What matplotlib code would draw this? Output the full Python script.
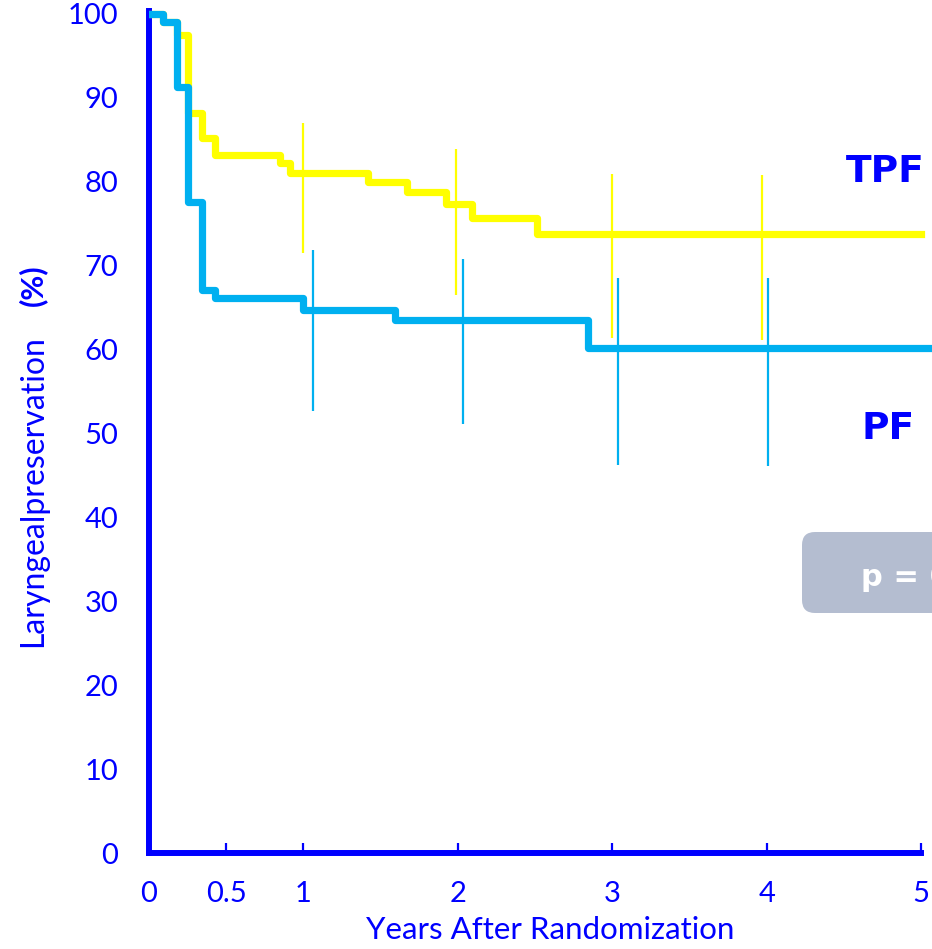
import matplotlib
matplotlib.use("Agg")
import matplotlib.pyplot as plt
from matplotlib.patches import FancyBboxPatch

# Kaplan-Meier style step curves (years, % laryngeal preservation)
tpf_years = [0, 0.09, 0.18, 0.25, 0.34, 0.43, 0.85, 0.91, 1.42, 1.67, 1.92, 2.09, 2.51, 5.0]
tpf_pct = [100, 99.0, 97.5, 88.2, 85.2, 83.2, 82.2, 81.1, 80.0, 78.8, 77.4, 75.7, 73.8, 73.8]

pf_years = [0, 0.09, 0.18, 0.25, 0.34, 0.43, 1.0, 1.59, 2.84, 5.2]
pf_pct = [100, 99.0, 91.3, 77.6, 67.1, 66.1, 64.7, 63.5, 60.2, 60.2]

# confidence intervals
tpf_ci_x = [1.0, 1.99, 3.0, 3.97]
tpf_ci_lo = [71.5, 66.5, 61.4, 61.1]
tpf_ci_hi = [87.0, 83.9, 80.9, 80.8]

pf_ci_x = [1.06, 2.03, 3.04, 4.01]
pf_ci_lo = [52.7, 51.1, 46.2, 46.1]
pf_ci_hi = [71.9, 70.8, 68.5, 68.5]

x_ticks = [0, 0.5, 1, 2, 3, 4, 5]
x_ticklabels = ["0", "0.5", "1", "2", "3", "4", "5"]
y_ticks = list(range(0, 101, 10))

BLUE = "#0000ff"
YELLOW = "#ffff00"
CYAN = "#00b0f0"

W, H = 932, 949


def px(x, y):
    # pixel position from the top-left corner -> figure fraction
    return x / W, 1 - y / H


plt.rcParams["font.family"] = ["Lato", "DejaVu Sans"]

fig = plt.figure(figsize=(W / 100, H / 100), dpi=100)
ax = fig.add_axes([149 / W, 96 / H, 1 - 149 / W, (853 - 5.6) / H])
ax.set_xlim(0, 5.07)
ax.set_ylim(0, 101)

ax.step(tpf_years, tpf_pct, where="post", color=YELLOW, lw=5.2,
        solid_joinstyle="round", zorder=3)
ax.vlines(tpf_ci_x, tpf_ci_lo, tpf_ci_hi, color=YELLOW, lw=1.6, zorder=3)
ax.step(pf_years, pf_pct, where="post", color=CYAN, lw=5.2,
        solid_joinstyle="round", zorder=4)
ax.vlines(pf_ci_x, pf_ci_lo, pf_ci_hi, color=CYAN, lw=1.6, zorder=4)

for side in ["top", "right"]:
    ax.spines[side].set_visible(False)
ax.spines["left"].set_color(BLUE)
ax.spines["left"].set_linewidth(4.3)
ax.spines["left"].set_bounds(0, 100.3)
ax.spines["bottom"].set_color(BLUE)
ax.spines["bottom"].set_linewidth(4.3)
ax.spines["bottom"].set_bounds(0, 5)

ax.set_xticks(x_ticks)
ax.set_xticklabels(x_ticklabels)
ax.tick_params(axis="x", direction="in", length=7, width=1.6, color=BLUE,
               labelcolor=BLUE, labelsize=21, pad=20)
ax.set_yticks(y_ticks)
ax.tick_params(axis="y", direction="inout", length=4.5, width=1.6, color="white",
               labelcolor=BLUE, labelsize=21, pad=20)
yt = ax.yaxis.get_major_ticks()
yt[0].tick1line.set_visible(False)
yt[-1].tick1line.set_visible(False)

fig.text(*px(885, 172), "TPF", color=BLUE, fontsize=27,
         fontweight="bold", family="DejaVu Sans", ha="center", va="center")
fig.text(*px(888, 429), "PF", color=BLUE, fontsize=27,
         fontweight="bold", family="DejaVu Sans", ha="center", va="center")

# p-value badge, runs off the right edge
badge = FancyBboxPatch((8.02, 3.36), 2.2, 0.81, transform=fig.dpi_scale_trans,
                       boxstyle="round,pad=0,rounding_size=0.13",
                       facecolor="#b4bdd0", edgecolor="none")
fig.patches.append(badge)
fig.text(*px(861, 578), "p = 0.03", color="white", fontsize=22,
         fontweight="bold", family="DejaVu Sans", ha="left", va="center")

fig.text(*px(550, 930), "Years After Randomization", color=BLUE,
         fontsize=22.5, ha="center", va="center")
fig.text(*px(33, 647), "Laryngealpreservation", color=BLUE,
         fontsize=23, rotation=90, ha="center", va="bottom")
fig.text(*px(33, 306), "(%)", color=BLUE, fontsize=22,
         fontweight="bold", rotation=90, ha="center", va="bottom")

fig.savefig("out.png", dpi=100)
